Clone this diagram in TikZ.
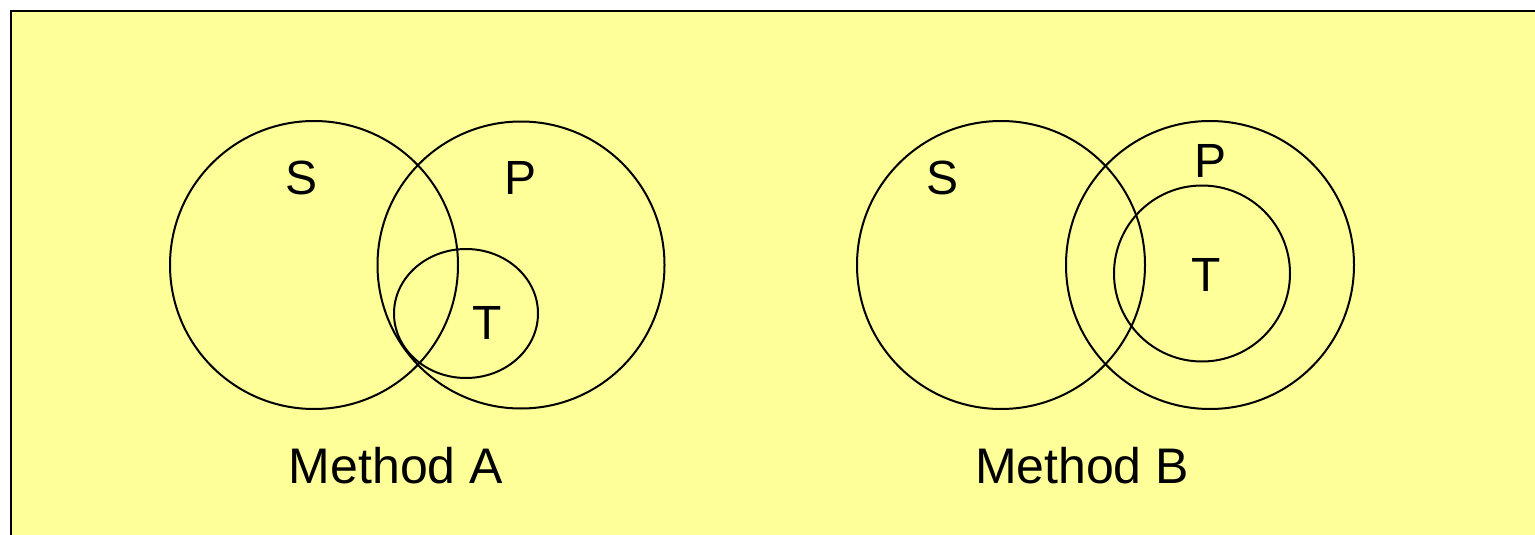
\documentclass[tikz,border=0pt]{standalone}
\usepackage{fontspec}
\setmainfont{Liberation Sans}
\definecolor{panel}{HTML}{FFFF99}
\begin{document}
\begin{tikzpicture}[x=1pt,y=-1pt,
  ring/.style={draw=black,line width=2pt},
  lbl/.style={inner sep=0pt,font=\fontsize{48}{56}\selectfont},
  caption/.style={inner sep=0pt,font=\fontsize{50}{58}\selectfont}]
\useasboundingbox (0,0) rectangle (1535,535);
% panel background and its visible frame edges
\fill[panel] (11,11) rectangle (1535,535);
\draw[line width=2.2pt] (11,535) -- (11,11) -- (1535,11);

% Method A
\draw[ring] (314,265) circle[radius=144];
\draw[ring] (521,265) circle[radius=143.5];
\draw[ring] (466,313.5) ellipse[x radius=72,y radius=64.5];
\node[lbl] (sa) at (302,178) {S};
\node[lbl] (pa) at (521,178) {P};
\node[lbl] (ta) at (487,323) {T};
\node[caption] (ma) at (396,466) {Method A};

% Method B
\draw[ring] (1001,265) circle[radius=144];
\draw[ring] (1210,265) circle[radius=144];
\draw[ring] (1202,273.5) circle[radius=88];
\node[lbl] (sb) at (942,178) {S};
\node[lbl] (pb) at (1210,161) {P};
\node[lbl] (tb) at (1206,275) {T};
\node[caption] (mb) at (1082,466) {Method B};
\end{tikzpicture}
\end{document}
